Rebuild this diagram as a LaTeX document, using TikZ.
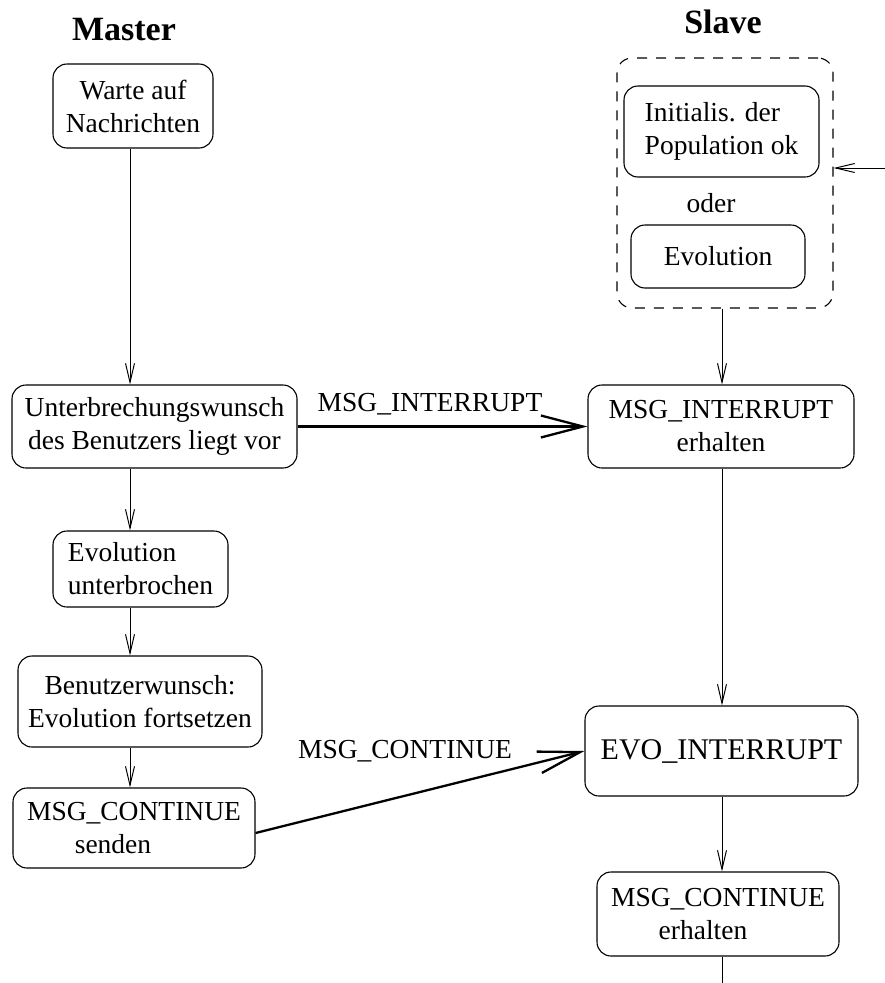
\documentclass[tikz,border=0pt]{standalone}
\usepackage{fontspec}
\setmainfont{Liberation Serif}
\usetikzlibrary{arrows.meta}
\begin{document}
\begin{tikzpicture}[x=1pt,y=-1pt,
  box/.style={draw, line width=1.1pt, rounded corners=14pt, inner sep=0pt,
    align=center, font=\fontsize{27.5}{33}\selectfont},
  thinarrow/.style={line width=1pt, -{Straight Barb[length=19pt,width=9pt]}},
  boldarrow/.style={line width=2.3pt, -{Straight Barb[length=42pt,width=22pt]}},
  lbl/.style={font=\fontsize{27.5}{33}\selectfont, inner sep=0pt, anchor=base},
  heading/.style={font=\fontsize{34}{40}\selectfont\bfseries, inner sep=0pt, anchor=base}]

\useasboundingbox (0,0) rectangle (885,983);

% column guides
\coordinate (lc) at (130,0);
\coordinate (rc) at (722,0);
\coordinate (ext) at (885,168);
\coordinate (bot) at (722,983);

% headings
\node[heading] (master) at (124,40) {Master};
\node[heading] (slave) at (723,33) {Slave};

% master side
\node[box, minimum width=160pt, minimum height=84pt] (warte) at (133,106)
  {Warte auf\\Nachrichten};
\node[box, minimum width=285pt, minimum height=83pt] (unter) at (154.5,426.5)
  {Unterbrechungswunsch\\des Benutzers liegt vor};
\node[box, align=left, minimum width=175pt, minimum height=76pt] (unterbr) at (140.5,569)
  {Evolution\\unterbrochen};
\node[box, minimum width=244pt, minimum height=91pt] (benutz) at (140,701.5)
  {Benutzerwunsch:\\Evolution fortsetzen};
\node[box, minimum width=242pt, minimum height=80pt] (senden) at (134,828)
  {MSG\_CONTINUE\\senden\hspace*{42pt}};

% slave side
\node[draw, dashed, dash pattern=on 10pt off 9pt, line width=1.1pt, rounded corners=15pt,
  minimum width=216pt, minimum height=250pt, inner sep=0pt] (slavegrp) at (725,183) {};
\node[box, align=left, minimum width=195pt, minimum height=91pt] (init) at (721.5,131.5)
  {Initialis. der\\Population ok};
\node[lbl] (oder) at (711,212) {oder};
\node[box, minimum width=174pt, minimum height=63pt] (evol) at (718,256.5) {Evolution};
\node[box, minimum width=266pt, minimum height=83pt] (msgint) at (721,426.5)
  {MSG\_INTERRUPT\\erhalten};
\node[box, font=\fontsize{30}{36}\selectfont, minimum width=273pt, minimum height=90pt]
  (evoint) at (721.5,751) {EVO\_INTERRUPT};
\node[box, minimum width=242pt, minimum height=84pt] (msgcont) at (718,914)
  {MSG\_CONTINUE\\erhalten\hspace*{30pt}};

% master flow
\draw[thinarrow] (warte.south -| lc) -- (unter.north -| lc);
\draw[thinarrow] (unter.south -| lc) -- (unterbr.north -| lc);
\draw[thinarrow] (unterbr.south -| lc) -- (benutz.north -| lc);
\draw[thinarrow] (benutz.south -| lc) -- (senden.north -| lc);

% slave flow
\draw[thinarrow] (ext) -- (slavegrp.east |- ext);
\draw[thinarrow] (slavegrp.south -| rc) -- (msgint.north -| rc);
\draw[thinarrow] (msgint.south -| rc) -- (evoint.north -| rc);
\draw[thinarrow] (evoint.south -| rc) -- (msgcont.north -| rc);
\draw[line width=1pt] (msgcont.south -| rc) -- (bot);

% messages
\draw[boldarrow] (unter.east) -- node[lbl, pos=0.457, yshift=15pt] (lint) {MSG\_INTERRUPT} (msgint.west);
\draw[boldarrow] ([yshift=-5pt]senden.east) -- (evoint.west);
\node[lbl] (lcont) at (405,758) {MSG\_CONTINUE};
\end{tikzpicture}
\end{document}
